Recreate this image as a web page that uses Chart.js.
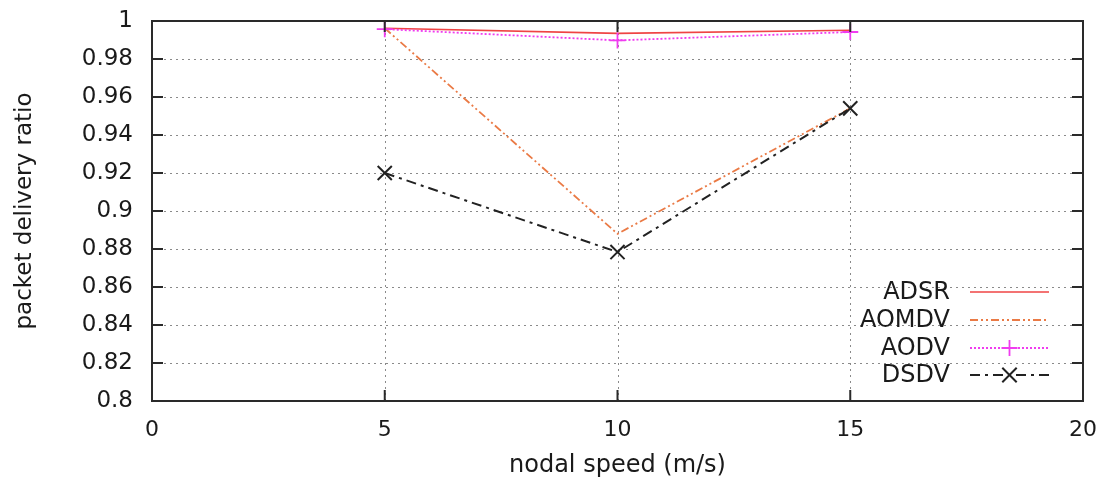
<!DOCTYPE html>
<html>
<head>
<meta charset="utf-8">
<script src="https://cdn.jsdelivr.net/npm/chart.js@4/dist/chart.umd.min.js"></script>
<style>
  html, body { margin: 0; padding: 0; background: #fff; }
  #wrap { width: 1107px; height: 484px; }
</style>
</head>
<body>
<div id="wrap"><canvas id="pdrChart" width="1107" height="484"></canvas></div>
<script>
// values
const speeds = [5, 10, 15];
const adsr  = [0.9962, 0.9935, 0.9951];
const aomdv = [0.9962, 0.8880, 0.9540];
const aodv  = [0.9957, 0.9898, 0.9942];
const dsdv  = [0.9200, 0.8784, 0.9540];

const xTicks = [0, 5, 10, 15, 20];
const yTicks = [0.8, 0.82, 0.84, 0.86, 0.88, 0.9, 0.92, 0.94, 0.96, 0.98, 1];

const FONT = "'DejaVu Sans', sans-serif";
const TEXT = '#1a1a1a';

function pts(ys) {
    return speeds.map((x, i) => ({ x: x, y: ys[i] }));
}

// dotted grid behind the lines
const gridPlugin = {
    id: 'gpGrid',
    beforeDatasetsDraw(chart) {
        const { ctx, chartArea: a, scales } = chart;
        ctx.save();
        ctx.strokeStyle = '#8a8a8a';
        ctx.lineWidth = 1;
        ctx.setLineDash([2, 4]);
        xTicks.slice(1, -1).forEach(v => {
            const px = Math.round(scales.x.getPixelForValue(v)) + 0.5;
            ctx.beginPath(); ctx.moveTo(px, a.top); ctx.lineTo(px, a.bottom); ctx.stroke();
        });
        yTicks.slice(1, -1).forEach(v => {
            const py = Math.round(scales.y.getPixelForValue(v)) + 0.5;
            ctx.beginPath(); ctx.moveTo(a.left, py); ctx.lineTo(a.right, py); ctx.stroke();
        });
        ctx.restore();
    }
};

// gnuplot style frame with inward tick marks, plus the key
const framePlugin = {
    id: 'gpFrame',
    afterDatasetsDraw(chart) {
        const { ctx, chartArea: a, scales } = chart;
        const tl = 11;
        ctx.save();
        ctx.setLineDash([]);
        ctx.strokeStyle = '#2a2a2a';
        ctx.lineWidth = 2;
        ctx.strokeRect(a.left, a.top, a.right - a.left, a.bottom - a.top);
        ctx.beginPath();
        yTicks.forEach(v => {
            const py = scales.y.getPixelForValue(v);
            ctx.moveTo(a.left, py); ctx.lineTo(a.left + tl, py);
            ctx.moveTo(a.right, py); ctx.lineTo(a.right - tl, py);
        });
        xTicks.forEach(v => {
            const px = scales.x.getPixelForValue(v);
            ctx.moveTo(px, a.bottom); ctx.lineTo(px, a.bottom - tl);
            ctx.moveTo(px, a.top); ctx.lineTo(px, a.top + tl);
        });
        ctx.stroke();

        // key, bottom right
        const rows = [292, 320, 348, 375];
        const textRight = 950, x0 = 970, x1 = 1049;
        ctx.font = '24px ' + FONT;
        ctx.textAlign = 'right';
        ctx.textBaseline = 'middle';
        chart.data.datasets.forEach((ds, i) => {
            const y = rows[i];
            ctx.fillStyle = TEXT;
            ctx.fillText(ds.label, textRight, y + 1);
            ctx.strokeStyle = ds.borderColor;
            ctx.lineWidth = ds.borderWidth;
            ctx.setLineDash(ds.borderDash || []);
            ctx.beginPath(); ctx.moveTo(x0, y); ctx.lineTo(x1, y); ctx.stroke();
            ctx.setLineDash([]);
            if (ds.pointRadius > 0) {
                const r = ds.pointRadius;
                const cx = (x0 + x1) / 2;
                ctx.lineWidth = ds.pointBorderWidth;
                ctx.strokeStyle = ds.pointBorderColor;
                ctx.beginPath();
                if (ds.pointStyle === 'cross') {
                    ctx.moveTo(cx - r, y); ctx.lineTo(cx + r, y);
                    ctx.moveTo(cx, y - r); ctx.lineTo(cx, y + r);
                } else {
                    const d = r * 0.72;
                    ctx.moveTo(cx - d, y - d); ctx.lineTo(cx + d, y + d);
                    ctx.moveTo(cx - d, y + d); ctx.lineTo(cx + d, y - d);
                }
                ctx.stroke();
            }
        });
        ctx.restore();
    }
};

new Chart(document.getElementById('pdrChart'), {
    type: 'line',
    data: {
        datasets: [
            {
                label: 'ADSR',
                data: pts(adsr),
                borderColor: '#ef4444',
                borderWidth: 1.6,
                pointRadius: 0,
                order: 1
            },
            {
                label: 'AOMDV',
                data: pts(aomdv),
                borderColor: '#ea7a45',
                borderWidth: 1.8,
                borderDash: [8, 3, 2, 3, 2, 3],
                pointRadius: 0,
                order: 3
            },
            {
                label: 'AODV',
                data: pts(aodv),
                borderColor: '#f03cf0',
                borderWidth: 1.8,
                borderDash: [2, 2],
                pointStyle: 'cross',
                pointRadius: 8,
                pointBorderWidth: 1.8,
                pointBorderColor: '#f03cf0',
                order: 0
            },
            {
                label: 'DSDV',
                data: pts(dsdv),
                borderColor: '#222222',
                borderWidth: 2,
                borderDash: [10, 5, 3, 5],
                pointStyle: 'crossRot',
                pointRadius: 10,
                pointBorderWidth: 2,
                pointBorderColor: '#222222',
                order: 2
            }
        ]
    },
    options: {
        responsive: false,
        animation: false,
        events: [],
        layout: { padding: { top: 21, right: 24, left: 0, bottom: 0 } },
        plugins: {
            legend: { display: false },
            tooltip: { enabled: false }
        },
        scales: {
            x: {
                type: 'linear',
                min: 0,
                max: 20,
                afterBuildTicks(scale) { scale.ticks = xTicks.map(v => ({ value: v })); },
                afterFit(scale) {
                    scale.height = 83;
                    scale.paddingLeft = 0;
                    scale.paddingRight = 0;
                },
                grid: { display: false, drawTicks: false },
                border: { display: false },
                ticks: {
                    padding: 16,
                    color: TEXT,
                    font: { family: FONT, size: 22 },
                    maxRotation: 0
                },
                title: {
                    display: true,
                    text: 'nodal speed (m/s)',
                    color: TEXT,
                    font: { family: FONT, size: 24 },
                    padding: { top: 0, bottom: 4 }
                }
            },
            y: {
                min: 0.8,
                max: 1,
                afterBuildTicks(scale) { scale.ticks = yTicks.map(v => ({ value: v })); },
                afterFit(scale) {
                    scale.width = 152;
                    scale.paddingTop = 0;
                    scale.paddingBottom = 0;
                },
                grid: { display: false, drawTicks: false },
                border: { display: false },
                ticks: {
                    padding: 19,
                    color: TEXT,
                    font: { family: FONT, size: 23 },
                    callback: v => String(parseFloat(v.toFixed(2)))
                },
                title: {
                    display: true,
                    text: 'packet delivery ratio',
                    color: TEXT,
                    font: { family: FONT, size: 23 },
                    padding: { top: 11, bottom: 0 }
                }
            }
        }
    },
    plugins: [gridPlugin, framePlugin]
});
</script>
</body>
</html>
